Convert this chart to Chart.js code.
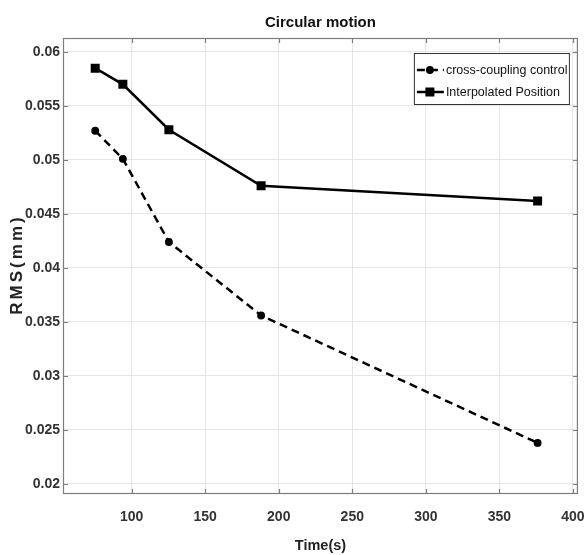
<!DOCTYPE html>
<html>
<head>
<meta charset="utf-8">
<title>Circular motion</title>
<script src="https://cdn.jsdelivr.net/npm/chart.js@4.4.0/dist/chart.umd.min.js"></script>
<style>
  html, body { margin: 0; padding: 0; background: #fff; }
  #wrap { width: 585px; height: 555px; }
</style>
</head>
<body>
<div id="wrap"><canvas id="rms-chart"></canvas></div>
<script>
// time (s) for each run
const timeS = [75.2, 94, 125.3, 188, 376];
// RMS error (mm)
const crossCoupling = [0.0527, 0.0501, 0.0424, 0.0356, 0.0238];
const interpolated = [0.0585, 0.0570, 0.0528, 0.0476, 0.0462];

const seriesLabels = ["cross-coupling control", "Interpolated Position"];
const xTicks = [100, 150, 200, 250, 300, 350, 400];
const yTicks = [0.02, 0.025, 0.03, 0.035, 0.04, 0.045, 0.05, 0.055, 0.06];

const sans = "'Liberation Sans', Arial, sans-serif";

function toPoints(xs, ys) {
  return xs.map((x, i) => ({ x: x, y: ys[i] }));
}

// box round the plot + small inner tick marks (matlab style)
const framePlugin = {
  id: "frame",
  afterDraw(chart) {
    const { ctx, chartArea: a, scales } = chart;
    ctx.save();
    ctx.strokeStyle = "#7d7d7d";
    ctx.lineWidth = 1.2;
    ctx.strokeRect(a.left + 0.5, a.top + 0.5, a.width - 1, a.height - 1);
    ctx.beginPath();
    scales.x.ticks.forEach((t) => {
      const px = Math.round(scales.x.getPixelForValue(t.value)) + 0.5;
      ctx.moveTo(px, a.bottom);
      ctx.lineTo(px, a.bottom - 5);
      ctx.moveTo(px, a.top);
      ctx.lineTo(px, a.top + 5);
    });
    scales.y.ticks.forEach((t) => {
      const py = Math.round(scales.y.getPixelForValue(t.value)) + 0.5;
      ctx.moveTo(a.left, py);
      ctx.lineTo(a.left + 5, py);
      ctx.moveTo(a.right, py);
      ctx.lineTo(a.right - 5, py);
    });
    ctx.stroke();

    // y title, letters spaced out like the original
    ctx.fillStyle = "#222";
    ctx.font = "bold 17px " + sans;
    if ("letterSpacing" in ctx) ctx.letterSpacing = "3px";
    ctx.textAlign = "center";
    ctx.textBaseline = "middle";
    ctx.translate(17, (a.top + a.bottom) / 2);
    ctx.rotate(-Math.PI / 2);
    ctx.fillText("RMS(mm)", 1.5, 0);
    ctx.restore();
  },
};

// boxed legend inside the top right corner
const boxLegend = {
  id: "boxLegend",
  afterDraw(chart) {
    const { ctx, chartArea: a } = chart;
    const w = 155, h = 51;
    const x0 = a.right - 9 - w, y0 = a.top + 15;
    ctx.save();
    ctx.fillStyle = "#fff";
    ctx.fillRect(x0, y0, w, h);
    ctx.strokeStyle = "#333";
    ctx.lineWidth = 1;
    ctx.strokeRect(x0 + 0.5, y0 + 0.5, w, h);
    chart.data.datasets.forEach((ds, i) => {
      const cy = y0 + 17 + i * 22;
      ctx.strokeStyle = ds.borderColor;
      ctx.lineWidth = ds.borderWidth;
      ctx.setLineDash(ds.borderDash || []);
      ctx.beginPath();
      ctx.moveTo(x0 + 3, cy);
      ctx.lineTo(x0 + 30, cy);
      ctx.stroke();
      ctx.setLineDash([]);
      ctx.fillStyle = ds.pointBackgroundColor;
      Chart.helpers.drawPoint(ctx, { pointStyle: ds.pointStyle, radius: ds.pointRadius, borderWidth: 1 }, x0 + 16, cy);
      ctx.fillStyle = "#111";
      ctx.font = "12.5px " + sans;
      ctx.textAlign = "left";
      ctx.textBaseline = "middle";
      ctx.fillText(ds.label, x0 + 32, cy + 1);
    });
    ctx.restore();
  },
};

const ctx = document.getElementById("rms-chart").getContext("2d");
const rmsChart = new Chart(ctx, {
  type: "line",
  data: {
    datasets: [
      {
        label: seriesLabels[0],
        data: toPoints(timeS, crossCoupling),
        borderColor: "#000",
        backgroundColor: "#000",
        pointBackgroundColor: "#000",
        borderWidth: 2.5,
        borderDash: [8, 5],
        pointStyle: "circle",
        pointRadius: 2.7,
        fill: false,
        tension: 0,
      },
      {
        label: seriesLabels[1],
        data: toPoints(timeS, interpolated),
        borderColor: "#000",
        backgroundColor: "#000",
        pointBackgroundColor: "#000",
        borderWidth: 2.5,
        pointStyle: "rect",
        pointRadius: 4.6,
        fill: false,
        tension: 0,
      },
    ],
  },
  options: {
    responsive: true,
    maintainAspectRatio: false,
    animation: false,
    layout: { padding: { left: 0, right: 5, top: 0, bottom: 0 } },
    plugins: {
      legend: { display: false },
      tooltip: { enabled: false },
      title: {
        display: true,
        fullSize: false,
        text: "Circular motion",
        color: "#111",
        font: { family: sans, size: 15, weight: "bold" },
        padding: { top: 14, bottom: 6 },
      },
    },
    scales: {
      x: {
        type: "linear",
        min: 53.3,
        max: 403.4,
        afterBuildTicks: (axis) => {
          axis.ticks = xTicks.map((v) => ({ value: v }));
        },
        afterFit: (axis) => {
          axis.height = 61;
          axis.paddingLeft = 0;
          axis.paddingRight = 0;
        },
        grid: { color: "#e6e6e6", drawTicks: false },
        border: { display: false },
        ticks: {
          padding: 15,
          color: "#333",
          font: { family: sans, size: 14, weight: "bold" },
          maxRotation: 0,
        },
        title: {
          display: true,
          text: "Time(s)",
          color: "#222",
          font: { family: sans, size: 14.5, weight: "bold" },
          padding: { top: 2, bottom: 0 },
        },
      },
      y: {
        type: "linear",
        min: 0.01907,
        max: 0.06129,
        afterBuildTicks: (axis) => {
          axis.ticks = yTicks.map((v) => ({ value: v }));
        },
        afterFit: (axis) => {
          axis.width = 63;
          axis.paddingTop = 0;
          axis.paddingBottom = 0;
        },
        grid: { color: "#e6e6e6", drawTicks: false },
        border: { display: false },
        ticks: {
          padding: 3,
          color: "#333",
          font: { family: sans, size: 14, weight: "bold" },
          callback: (v) => String(Number(v.toFixed(3))),
        },
      },
    },
  },
  plugins: [framePlugin, boxLegend],
});
</script>
</body>
</html>
